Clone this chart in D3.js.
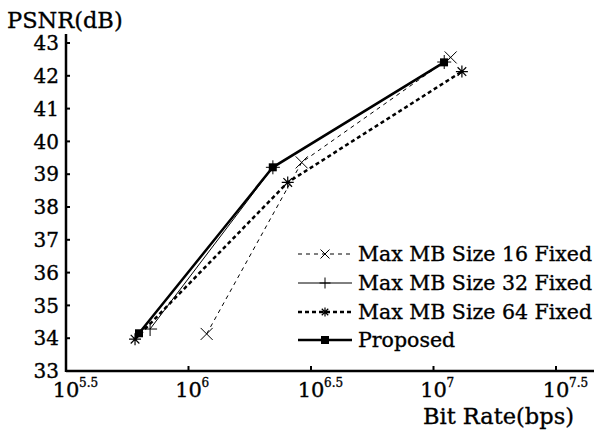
<!DOCTYPE html>
<html>
<head>
<meta charset="utf-8">
<script src="https://cdn.jsdelivr.net/npm/d3@7/dist/d3.min.js"></script>
<style>
  html, body { margin: 0; padding: 0; background: #fff; }
  svg { display: block; }
  text { font-family: "DejaVu Serif", serif; fill: #000; stroke: #000; stroke-width: 0.35px; }
</style>
</head>
<body>
<svg id="chart" width="594" height="434"></svg>
<script>
// Bit rates (bps) and PSNR (dB) for each encoder configuration
const seriesNames = ["Max MB Size 16 Fixed", "Max MB Size 32 Fixed", "Max MB Size 64 Fixed", "Proposed"];
const rate16 = [1186000, 2897000, 11750000];
const psnr16 = [34.13, 39.36, 42.56];
const rate32 = [697000, 2210000, 11060000];
const psnr32 = [34.28, 39.21, 42.42];
const rate64 = [605000, 2541000, 13060000];
const psnr64 = [33.97, 38.75, 42.13];
const ratePro = [628000, 2208000, 11040000];
const psnrPro = [34.15, 39.21, 42.41];

const xTickExponents = ["5.5", "6", "6.5", "7", "7.5"];
const yTicks = [33, 34, 35, 36, 37, 38, 39, 40, 41, 42, 43];

const svg = d3.select("#chart");
const x = d3.scaleLog().domain([Math.pow(10, 5.5), Math.pow(10, 7.5)]).range([66, 556]);
const y = d3.scaleLinear().domain([33, 43]).range([371, 43]);

// axes
svg.append("line").attr("x1", 66).attr("x2", 594).attr("y1", 371).attr("y2", 371)
  .attr("stroke", "#000").attr("stroke-width", 2.5);
svg.append("line").attr("x1", 66).attr("x2", 66).attr("y1", 34).attr("y2", 372)
  .attr("stroke", "#000").attr("stroke-width", 2.5);

// y ticks
yTicks.forEach(t => {
  svg.append("line").attr("x1", 66).attr("x2", 70).attr("y1", y(t)).attr("y2", y(t))
    .attr("stroke", "#000").attr("stroke-width", 2);
  svg.append("text").attr("x", 59).attr("y", y(t)).attr("dy", "0.36em")
    .attr("text-anchor", "end").attr("font-size", 20).text(t);
});

// x ticks: 10 with exponent
xTickExponents.forEach(e => {
  const px = x(Math.pow(10, +e));
  svg.append("line").attr("x1", px).attr("x2", px).attr("y1", 371).attr("y2", 366)
    .attr("stroke", "#000").attr("stroke-width", 2);
  svg.append("text").attr("x", px).attr("y", 397)
    .attr("text-anchor", "middle").attr("font-size", 21).text("10");
  svg.append("text").attr("x", px + 13).attr("y", 387)
    .attr("text-anchor", "start").attr("font-size", 12).attr("stroke-width", 0.2).text(e);
});

// axis titles
svg.append("text").attr("x", 7).attr("y", 28).attr("font-size", 22.5).text("PSNR(dB)");
svg.append("text").attr("x", 574).attr("y", 424).attr("text-anchor", "end")
  .attr("font-size", 22.5).text("Bit Rate(bps)");

const series = [
  { name: seriesNames[0], rate: rate16, psnr: psnr16, width: 1, dash: "4,4", marker: "x" },
  { name: seriesNames[1], rate: rate32, psnr: psnr32, width: 1, dash: null, marker: "plus" },
  { name: seriesNames[2], rate: rate64, psnr: psnr64, width: 2.5, dash: "4,3", marker: "star" },
  { name: seriesNames[3], rate: ratePro, psnr: psnrPro, width: 2.5, dash: null, marker: "square" }
];

function drawMarker(g, type, cx, cy, s) {
  if (type === "x") {
    g.append("path").attr("d", `M${cx - s},${cy - s}L${cx + s},${cy + s}M${cx - s},${cy + s}L${cx + s},${cy - s}`)
      .attr("stroke", "#000").attr("stroke-width", 1).attr("fill", "none");
  } else if (type === "plus") {
    g.append("path").attr("d", `M${cx - s - 1},${cy}L${cx + s + 1},${cy}M${cx},${cy - s - 1}L${cx},${cy + s + 1}`)
      .attr("stroke", "#000").attr("stroke-width", 1).attr("fill", "none");
  } else if (type === "star") {
    const d = s * 0.72;
    g.append("path").attr("d",
      `M${cx - s},${cy}L${cx + s},${cy}M${cx},${cy - s}L${cx},${cy + s}` +
      `M${cx - d},${cy - d}L${cx + d},${cy + d}M${cx - d},${cy + d}L${cx + d},${cy - d}`)
      .attr("stroke", "#000").attr("stroke-width", 1.2).attr("fill", "none");
  } else {
    g.append("rect").attr("x", cx - 4).attr("y", cy - 4).attr("width", 8).attr("height", 8).attr("fill", "#000");
  }
}

const line = d3.line().x(d => x(d[0])).y(d => y(d[1]));

series.forEach(s => {
  const pts = s.rate.map((r, i) => [r, s.psnr[i]]);
  const g = svg.append("g");
  g.append("path").attr("d", line(pts)).attr("fill", "none").attr("stroke", "#000")
    .attr("stroke-width", s.width).attr("stroke-dasharray", s.dash);
  pts.forEach(p => drawMarker(g, s.marker, x(p[0]), y(p[1]), 6));
});

// legend
const legendY = [254, 283, 312, 340];
series.forEach((s, i) => {
  const ly = legendY[i];
  const g = svg.append("g");
  g.append("line").attr("x1", 298).attr("x2", 352).attr("y1", ly).attr("y2", ly)
    .attr("stroke", "#000").attr("stroke-width", s.width).attr("stroke-dasharray", s.dash);
  drawMarker(g, s.marker, 325, ly, s.marker === "square" ? 6 : 4.5);
  g.append("text").attr("x", 358).attr("y", ly).attr("dy", "0.36em")
    .attr("font-size", 20.5).text(s.name);
});
</script>
</body>
</html>
